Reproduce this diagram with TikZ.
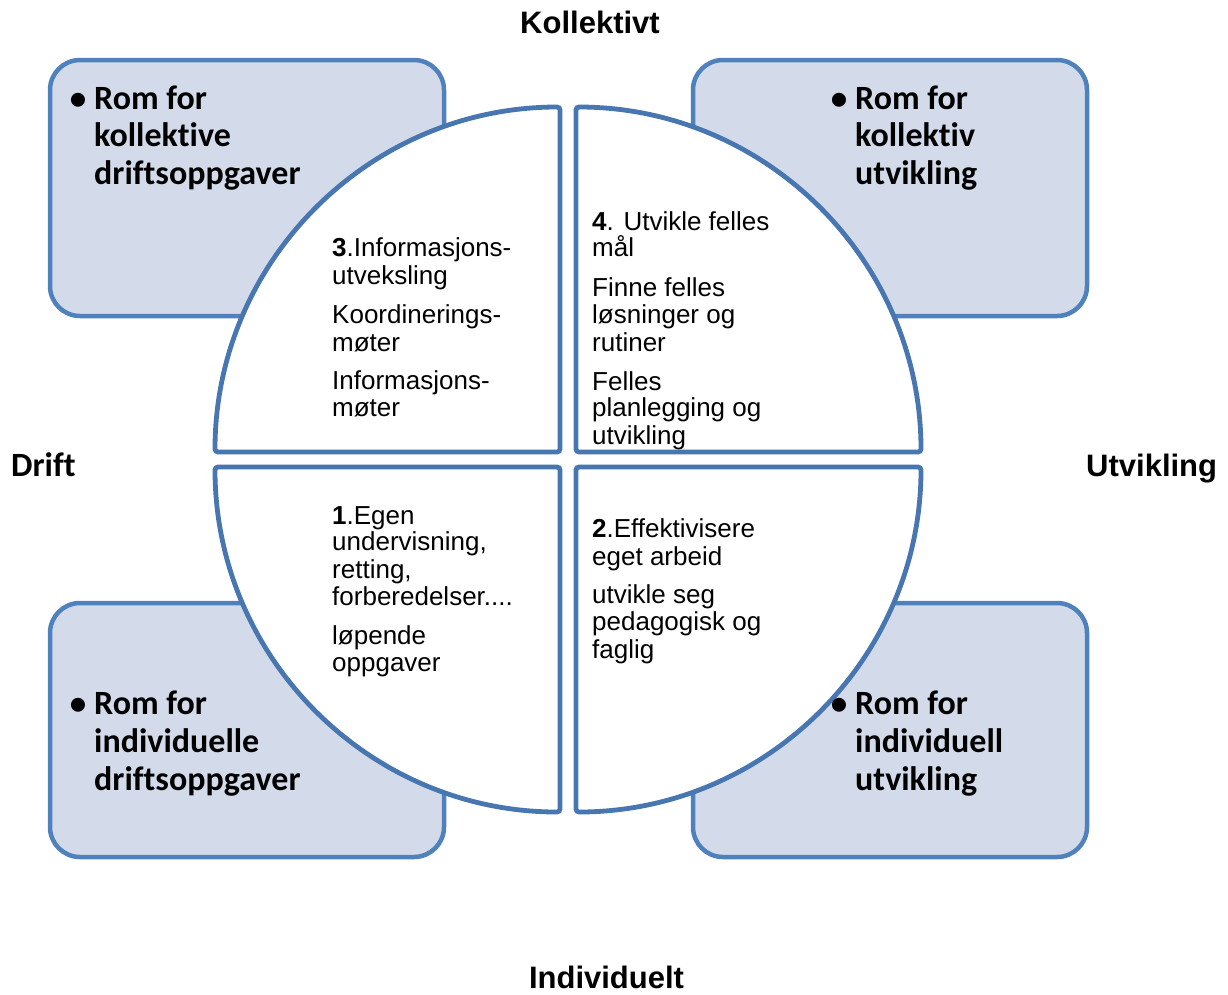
\documentclass[tikz,border=0pt]{standalone}
\usepackage{fontspec}
\newfontfamily\arialf{Liberation Sans}
\newfontfamily\calf[Ligatures={NoCommon}]{Carlito}
\definecolor{boxline}{RGB}{79,129,189}
\definecolor{boxfill}{RGB}{211,219,234}
\definecolor{qline}{RGB}{72,118,177}
\tikzset{
  roombox/.style={draw=boxline, fill=boxfill, line width=4.5pt, rounded corners=30pt, inner sep=0pt},
  quad/.style={draw=qline, fill=white, line width=4.8pt, rounded corners=3pt},
  qtext/.style={font=\arialf\fontsize{26}{29}\selectfont, anchor=base west, inner sep=0pt},
  rtext/.style={font=\calf\bfseries\fontsize{34}{40}\selectfont, anchor=base west, inner sep=0pt},
  rbullet/.style={font=\calf\bfseries\fontsize{33}{40}\selectfont, anchor=base, inner sep=0pt},
  axlabel/.style={font=\arialf\bfseries\fontsize{31}{36}\selectfont, inner sep=0pt},
  axlabelc/.style={font=\calf\bfseries\fontsize{34}{40}\selectfont, inner sep=0pt}
}
\begin{document}
\begin{tikzpicture}[x=1pt,y=-1pt]
\useasboundingbox (0,0) rectangle (1228,994);
% rooms
\node[roombox, minimum width=394pt, minimum height=256pt] (bTL) at (247,188) {};
\node[roombox, minimum width=394pt, minimum height=256pt] (bTR) at (890,188) {};
\node[roombox, minimum width=394pt, minimum height=254pt] (bBL) at (247,730) {};
\node[roombox, minimum width=394pt, minimum height=254pt] (bBR) at (890,730) {};
% quadrants
\draw[quad] (560,452) -- (215,452) arc[start angle=180, end angle=270, radius=345] -- cycle;
\draw[quad] (576,452) -- (576,107) arc[start angle=270, end angle=360, radius=345] -- cycle;
\draw[quad] (560,467) -- (560,812) arc[start angle=90, end angle=180, radius=345] -- cycle;
\draw[quad] (576,467) -- (921,467) arc[start angle=0, end angle=90, radius=345] -- cycle;
% quadrant 3
\node[qtext] (q3a) at (332,256.7) {\textbf{3}.Informasjons-};
\node[qtext] (q3b) at (332,284.3) {utveksling};
\node[qtext] (q3c) at (332,323.3) {Koordinerings-};
\node[qtext] (q3d) at (332,351) {møter};
\node[qtext] (q3e) at (332,389) {Informasjons-};
\node[qtext] (q3f) at (332,416.7) {møter};
% quadrant 4
\node[qtext] (q4a) at (592,230.7) {\textbf{4}. Utvikle felles};
\node[qtext] (q4b) at (592,256.7) {mål};
\node[qtext] (q4c) at (592,296.7) {Finne felles};
\node[qtext] (q4d) at (592,323.3) {løsninger og};
\node[qtext] (q4e) at (592,351) {rutiner};
\node[qtext] (q4f) at (592,390) {Felles};
\node[qtext] (q4g) at (592,416.7) {planlegging og};
\node[qtext] (q4h) at (592,444) {utvikling};
% quadrant 1
\node[qtext] (q1a) at (332,524) {\textbf{1}.Egen};
\node[qtext] (q1b) at (332,550.7) {undervisning,};
\node[qtext] (q1c) at (332,578.3) {retting,};
\node[qtext] (q1d) at (332,605) {forberedelser....};
\node[qtext] (q1e) at (332,644.3) {løpende};
\node[qtext] (q1f) at (332,671) {oppgaver};
% quadrant 2
\node[qtext] (q2a) at (592,537.3) {\textbf{2}.Effektivisere};
\node[qtext] (q2b) at (592,565) {eget arbeid};
\node[qtext] (q2c) at (592,603.3) {utvikle seg};
\node[qtext] (q2d) at (592,630.7) {pedagogisk og};
\node[qtext] (q2e) at (592,658.3) {faglig};
% room texts
\node[rbullet] (tlb) at (78,109.3) {•};
\node[rtext] (tl1) at (94,109.3) {Rom for};
\node[rtext] (tl2) at (94,146.7) {kollektive};
\node[rtext] (tl3) at (94,184) {driftsoppgaver};
\node[rbullet] (trb) at (839,109.3) {•};
\node[rtext] (tr1) at (855,109.3) {Rom for};
\node[rtext] (tr2) at (855,146.7) {kollektiv};
\node[rtext] (tr3) at (855,184) {utvikling};
\node[rbullet] (blb) at (78,714.5) {•};
\node[rtext] (bl1) at (94,714.5) {Rom for};
\node[rtext] (bl2) at (94,752.3) {individuelle};
\node[rtext] (bl3) at (94,790) {driftsoppgaver};
\node[rbullet] (brb) at (839,714.5) {•};
\node[rtext] (br1) at (855,714.5) {Rom for};
\node[rtext] (br2) at (855,752.3) {individuell};
\node[rtext] (br3) at (855,790) {utvikling};
% axis labels
\node[axlabel, anchor=base] (kol) at (590,33.3) {Kollektivt};
\node[axlabelc, anchor=base west] (drift) at (11,476) {Drift};
\node[axlabel, anchor=base west] (utv) at (1086,476.7) {Utvikling};
\node[axlabel, anchor=base] (ind) at (606.5,988) {Individuelt};
\end{tikzpicture}
\end{document}
